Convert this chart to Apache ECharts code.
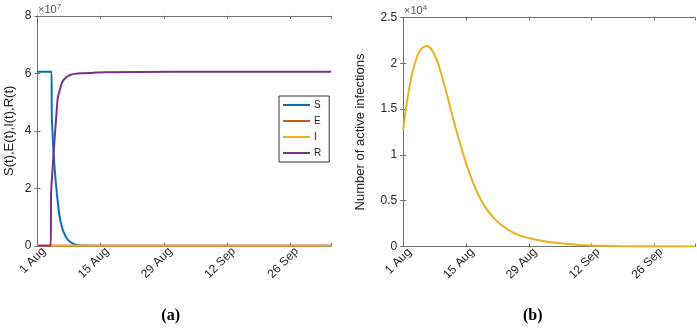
<!DOCTYPE html>
<html>
<head>
<meta charset="utf-8">
<script src="https://cdn.jsdelivr.net/npm/echarts@6/dist/echarts.min.js"></script>
<style>
  html, body { margin: 0; padding: 0; background: #fff; }
  #chartContainer { width: 697px; height: 329px; }
</style>
</head>
<body>
<div id="chartContainer"></div>
<script>
// days since 1 Aug
const tickLabels = ["1 Aug", "15 Aug", "29 Aug", "12 Sep", "26 Sep"];
const seriesNames = ["S", "E", "I", "R"];

// (a) compartments, values x1e7
const sDays = [0, 3.1, 3.16, 3.5, 3.74, 4.04, 4.4, 4.85, 5.3, 5.74, 6.4, 7.2, 8.1, 9.07, 12, 20, 40, 65];
const sVals = [6.05, 6.05, 4.55, 3.39, 2.81, 2.23, 1.65, 1.07, 0.72, 0.49, 0.28, 0.14, 0.06, 0.02, 0.005, 0, 0, 0];
const eDays = [0, 65];
const eVals = [0, 0];
const rDays = [0, 2.95, 3.0, 3.3, 3.6, 3.9, 4.2, 4.48, 5.0, 5.5, 6.3, 7.2, 8.3, 9.8, 15, 30, 65];
const rVals = [0, 0, 1.8, 2.6, 3.3, 3.97, 4.6, 5.13, 5.45, 5.7, 5.85, 5.94, 5.98, 6.0, 6.04, 6.05, 6.05];

// (b) active infections, values x1e4
const iDays = [0, 0.6, 1.3, 2.0, 2.8, 3.5, 4.3, 5.2, 6.0, 6.8, 7.6, 8.2, 9.7, 11.2, 12.7, 14.2, 15.7, 16.8, 17.9, 19.0, 20.2, 21.6, 23.2, 24.6, 26.1, 28.4, 30.5, 33, 36.7, 42, 50, 65];
const iVals = [1.27, 1.5, 1.71, 1.89, 2.03, 2.12, 2.17, 2.19, 2.17, 2.11, 2.02, 1.93, 1.67, 1.38, 1.12, 0.88, 0.68, 0.56, 0.46, 0.38, 0.31, 0.245, 0.188, 0.15, 0.118, 0.088, 0.066, 0.046, 0.026, 0.01, 0.003, 0];

const colors = ["#0072BD", "#D95319", "#EDB120", "#7E2F8E"];
const axisColor = "#707070";
const textColor = "#262626";

function pairs(days, vals, scale) {
  return days.map((d, i) => [d, vals[i] * scale]);
}

function xAxisFor(gridIndex, position) {
  const bottom = position === "bottom";
  return {
    type: "value",
    gridIndex: gridIndex,
    position: position,
    min: 0,
    max: 65,
    interval: 14,
    axisLine: { show: true, onZero: false, lineStyle: { color: axisColor } },
    axisTick: { show: true, inside: true, length: 3, lineStyle: { color: axisColor } },
    splitLine: { show: false },
    axisLabel: {
      show: bottom,
      rotate: 45,
      fontSize: 12,
      margin: 10,
      padding: [0, -9, 0, 0],
      color: textColor,
      fontFamily: "Liberation Sans",
      formatter: function(v) {
        return tickLabels[Math.round(v / 14)] || "";
      }
    }
  };
}

function yAxisFor(gridIndex, position, max, interval, scale, name, nameGap) {
  const left = position === "left";
  return {
    type: "value",
    gridIndex: gridIndex,
    position: position,
    min: 0,
    max: max,
    interval: interval,
    name: left ? name : "",
    nameLocation: "middle",
    nameRotate: 90,
    nameGap: nameGap,
    nameTextStyle: { fontSize: 13, color: textColor, fontFamily: "Liberation Sans" },
    axisLine: { show: true, lineStyle: { color: axisColor } },
    axisTick: { show: true, inside: true, length: 3, lineStyle: { color: axisColor } },
    splitLine: { show: false },
    axisLabel: {
      show: left,
      fontSize: 12,
      margin: 6,
      color: textColor,
      fontFamily: "Liberation Sans",
      formatter: function(v) {
        return String(+(v / scale).toFixed(2));
      }
    }
  };
}

const leftData = [
  pairs(sDays, sVals, 1e7),
  pairs(eDays, eVals, 1e7),
  pairs(iDays, iVals, 1e4),
  pairs(rDays, rVals, 1e7)
];

let seriesList = [];
leftData.forEach((item, index) => {
  seriesList.push({
    name: seriesNames[index],
    type: "line",
    xAxisIndex: 0,
    yAxisIndex: 0,
    color: colors[index],
    showSymbol: false,
    smooth: 0.2,
    lineStyle: { width: 2 },
    data: item
  });
});
seriesList.push({
  name: "active",
  type: "line",
  xAxisIndex: 2,
  yAxisIndex: 2,
  color: colors[2],
  showSymbol: false,
  smooth: 0.4,
  lineStyle: { width: 2 },
  data: pairs(iDays, iVals, 1e4)
});

const option = {
  animation: false,
  backgroundColor: "#fff",
  grid: [
    { left: 37.5, top: 15.8, width: 293.5, height: 230, containLabel: false },
    { left: 403.2, top: 17.5, width: 292.8, height: 229, containLabel: false }
  ],
  xAxis: [
    xAxisFor(0, "bottom"),
    xAxisFor(0, "top"),
    xAxisFor(1, "bottom"),
    xAxisFor(1, "top")
  ],
  yAxis: [
    yAxisFor(0, "left", 8e7, 2e7, 1e7, "S(t),E(t),I(t),R(t)", 22),
    yAxisFor(0, "right", 8e7, 2e7, 1e7, "", 0),
    yAxisFor(1, "left", 2.5e4, 0.5e4, 1e4, "Number of active infections", 36),
    yAxisFor(1, "right", 2.5e4, 0.5e4, 1e4, "", 0)
  ],
  legend: {
    data: seriesNames,
    orient: "vertical",
    left: 279,
    top: 96,
    icon: "rect",
    itemWidth: 27,
    itemHeight: 2,
    itemGap: 6,
    padding: [4, 8, 4, 4],
    borderColor: "#333",
    borderWidth: 1,
    borderRadius: 0,
    backgroundColor: "#fff",
    textStyle: { fontSize: 10, color: textColor, fontFamily: "Liberation Sans", padding: [0, 0, 0, -1] }
  },
  graphic: [
    {
      type: "text",
      left: 38,
      top: 3,
      style: {
        text: "\u00d710{s|7}",
        fill: "#555",
        font: "11px Liberation Sans",
        rich: { s: { fontSize: 8, fill: "#555", verticalAlign: "top", padding: [0, 0, 6, 0] } }
      }
    },
    {
      type: "text",
      left: 404,
      top: 4,
      style: {
        text: "\u00d710{s|4}",
        fill: "#555",
        font: "11px Liberation Sans",
        rich: { s: { fontSize: 8, fill: "#555", verticalAlign: "top", padding: [0, 0, 6, 0] } }
      }
    },
    {
      type: "text",
      x: 170.7,
      y: 316,
      style: {
        text: "(a)",
        fill: "#000",
        font: "bold 16px Liberation Serif",
        align: "center",
        verticalAlign: "middle"
      }
    },
    {
      type: "text",
      x: 532.7,
      y: 316,
      style: {
        text: "(b)",
        fill: "#000",
        font: "bold 16px Liberation Serif",
        align: "center",
        verticalAlign: "middle"
      }
    }
  ],
  series: seriesList
};

const myChart = echarts.init(document.getElementById("chartContainer"));
myChart.setOption(option);
</script>
</body>
</html>
